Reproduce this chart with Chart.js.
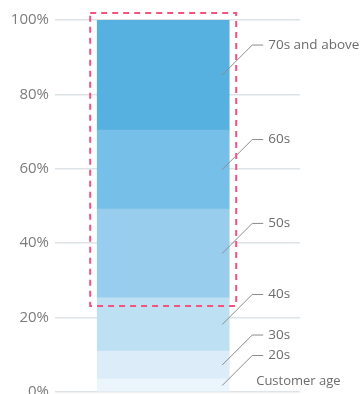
<!DOCTYPE html>
<html>
<head>
<meta charset="utf-8">
<script src="https://cdn.jsdelivr.net/npm/chart.js@4.4.0/dist/chart.umd.min.js"></script>
<style>
  html, body { margin: 0; padding: 0; background: #fff; overflow: hidden; }
  #wrap { position: relative; width: 363px; height: 410px; }
</style>
</head>
<body>
<div id="wrap"><canvas id="ageChart"></canvas></div>
<script>
// age groups, bottom to top
var ageGroups = ['20s', '30s', '40s', '50s', '60s', '70s and above'];
var shares = [3.5, 7.5, 14.3, 23.9, 21.2, 29.6];
var groupColors = ['#ebf5fc', '#dcedf9', '#bde1f3', '#98cded', '#76bfe8', '#56b1e1'];
var yTicks = [0, 20, 40, 60, 80, 100];
var axisTitle = 'Customer age';
// groups inside the dashed box
var boxedFrom = 3, boxedTo = 5;

var datasets = [];
for (var i = 0; i < ageGroups.length; i++) {
  datasets.push({
    label: ageGroups[i],
    data: [{ x: 0.43, y: shares[i] }],
    backgroundColor: groupColors[i],
    borderWidth: 0,
    barThickness: 132
  });
}

// leader lines + labels, and the dashed box
var annotations = {
  id: 'annotations',
  afterDatasetsDraw: function(chart) {
    var ctx = chart.ctx;
    var y = chart.scales.y;
    var cum = 0;
    ctx.save();
    ctx.font = '13.5px "Open Sans", sans-serif';
    ctx.textBaseline = 'middle';
    for (var i = 0; i < shares.length; i++) {
      var mid = cum + shares[i] / 2;
      cum += shares[i];
      var bar = chart.getDatasetMeta(i).data[0];
      var x0 = bar.x + bar.width / 2 - 7;
      var y0 = y.getPixelForValue(mid);
      ctx.strokeStyle = '#8c8c8c';
      ctx.lineWidth = 1;
      ctx.beginPath();
      ctx.moveTo(x0, y0);
      ctx.lineTo(x0 + 30, y0 - 30);
      ctx.lineTo(x0 + 41, y0 - 30);
      ctx.stroke();
      ctx.fillStyle = '#6c6c6c';
      ctx.fillText(ageGroups[i], x0 + 46, y0 - 30);
    }
    var first = chart.getDatasetMeta(0).data[0];
    ctx.font = '13px "Open Sans", sans-serif';
    ctx.fillText(axisTitle, first.x + first.width / 2 + 27, y.getPixelForValue(0) - 11);

    // dashed box around upper groups
    var lo = chart.getDatasetMeta(boxedFrom).data[0];
    var hi = chart.getDatasetMeta(boxedTo).data[0];
    var pad = 7;
    ctx.strokeStyle = '#f4537e';
    ctx.lineWidth = 2;
    ctx.setLineDash([6, 5]);
    ctx.strokeRect(lo.x - lo.width / 2 - pad, hi.y - pad,
      lo.width + pad * 2, lo.base - hi.y + pad * 2 + 1);
    ctx.restore();
  }
};

new Chart(document.getElementById('ageChart'), {
  type: 'bar',
  data: { datasets: datasets },
  options: {
    responsive: true,
    maintainAspectRatio: false,
    animation: false,
    layout: { padding: { top: 20, right: 63, bottom: 18, left: 0 } },
    plugins: { legend: { display: false }, tooltip: { enabled: false } },
    scales: {
      x: { type: 'linear', min: 0, max: 1, stacked: true, display: false },
      y: {
        stacked: true,
        min: 0,
        max: 100,
        afterBuildTicks: function(scale) {
          scale.ticks = yTicks.map(function(v) { return { value: v }; });
        },
        afterFit: function(scale) { scale.width = 55; },
        border: { display: false },
        grid: { color: '#dde3e6', lineWidth: 1.5, drawTicks: false },
        ticks: {
          padding: 6,
          color: '#7c7c7c',
          font: { family: 'Open Sans', size: 15 },
          callback: function(v) { return v + '%'; }
        }
      }
    }
  },
  plugins: [annotations]
});
</script>
</body>
</html>
